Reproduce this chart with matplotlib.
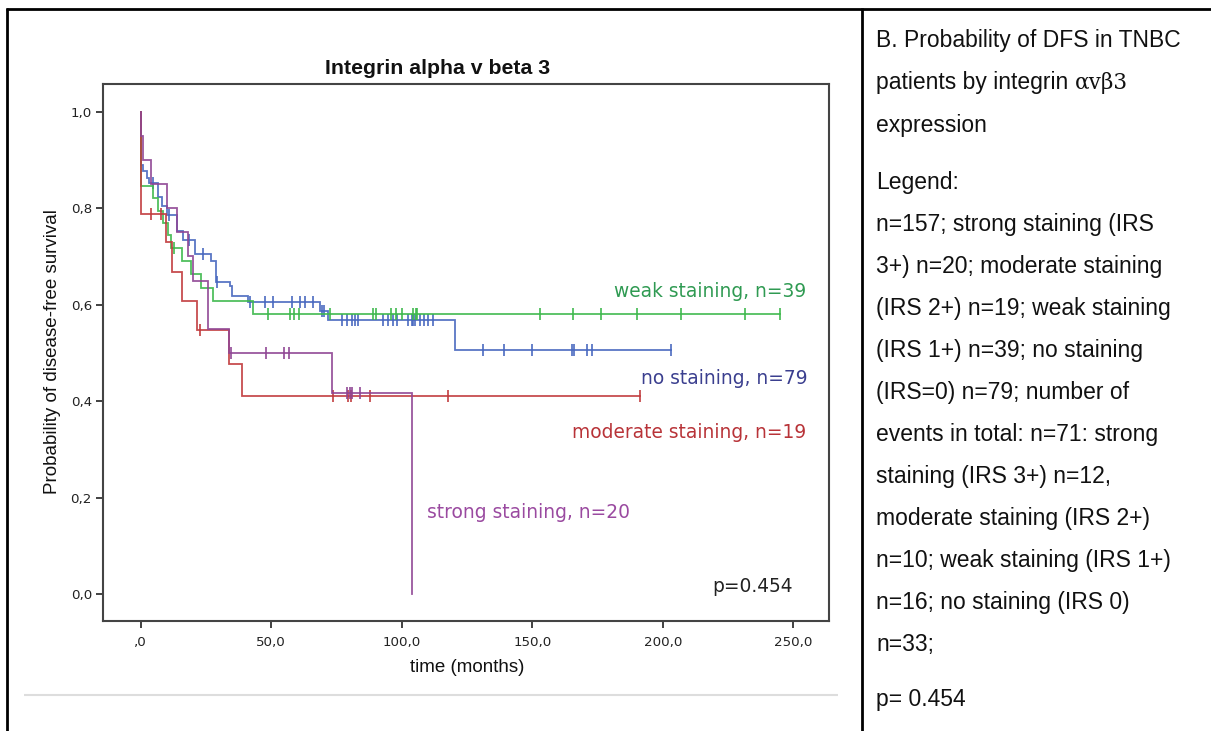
import matplotlib
matplotlib.use("Agg")
import matplotlib.pyplot as plt
from matplotlib.lines import Line2D

W, H = 1211, 731
DPI = 100

# ---- Kaplan-Meier data (months, survival level after each event) ----
strong_event_t = [0.2, 1.0, 3.8, 10.0, 13.8, 18.3, 20.0, 25.7, 34.0, 73.2, 104.0]
strong_level = [0.95, 0.90, 0.85, 0.80, 0.75, 0.70, 0.65, 0.55, 0.50, 0.4167, 0.0]
strong_censor = [34.5, 48.0, 55.0, 56.8, 78.9, 80.3, 80.8, 84.0]
strong_end = 104.0

moderate_event_t = [0.0, 9.6, 11.9, 16.0, 21.7, 34.0, 39.0]
moderate_level = [0.789, 0.729, 0.668, 0.607, 0.547, 0.478, 0.410]
moderate_censor = [3.8, 7.7, 22.7, 73.8, 79.5, 80.5, 87.8, 117.7, 191.3]
moderate_end = 191.3

weak_event_t = [0.0, 4.8, 6.7, 8.7, 10.5, 11.5, 15.7, 19.2, 23.0, 27.8, 42.9]
weak_level = [0.846, 0.821, 0.795, 0.769, 0.744, 0.718, 0.690, 0.663, 0.635, 0.607, 0.580]
weak_censor = [12.8, 48.9, 57.2, 58.8, 60.6, 72.5, 89.0, 90.0, 96.0, 98.0, 100.0,
               104.5, 105.5, 106.0, 153.0, 165.5, 176.3, 190.3, 207.0, 231.5, 245.0]
weak_end = 245.0

none_event_t = [0.0, 1.0, 2.3, 3.3, 6.7, 8.0, 10.0, 14.0, 16.3, 20.8, 27.0, 29.0,
                34.2, 34.8, 41.0, 68.7, 71.9, 120.4]
none_level = [0.889, 0.877, 0.863, 0.852, 0.824, 0.805, 0.785, 0.753, 0.734, 0.706,
              0.690, 0.647, 0.638, 0.619, 0.606, 0.587, 0.568, 0.507]
none_censor = [4.6, 10.8, 18.6, 24.0, 29.2, 41.9, 47.6, 50.8, 57.9, 61.0, 62.9, 66.1,
               69.3, 70.2, 77.0, 78.9, 80.8, 82.1, 83.4, 93.0, 94.9, 96.8, 98.1, 102.5,
               103.8, 104.5, 105.1, 107.0, 108.5, 110.2, 112.1, 131.1, 139.0, 149.8,
               165.1, 166.0, 170.9, 172.8, 203.0]
none_end = 203.0

group_labels = ["weak staining, n=39", "no staining, n=79",
                "moderate staining, n=19", "strong staining, n=20"]
p_text = "p=0.454"

x_ticks = [0, 50, 100, 150, 200, 250]
x_tick_labels = [",0", "50,0", "100,0", "150,0", "200,0", "250,0"]
y_ticks = [0.0, 0.2, 0.4, 0.6, 0.8, 1.0]
y_tick_labels = ["0,0", "0,2", "0,4", "0,6", "0,8", "1,0"]

side_lines_top = ["B. Probability of DFS in TNBC", "patients by integrin ", "expression"]
side_symbol = "\u03b1v\u03b23"
side_lines_legend = [
    "Legend:",
    "n=157; strong staining (IRS",
    "3+) n=20; moderate staining",
    "(IRS 2+) n=19; weak staining",
    "(IRS 1+) n=39; no staining",
    "(IRS=0) n=79; number of",
    "events in total: n=71: strong",
    "staining (IRS 3+) n=12,",
    "moderate staining (IRS 2+)",
    "n=10; weak staining (IRS 1+)",
    "n=16; no staining (IRS 0)",
    "n=33;",
]
side_p = "p= 0.454"

# ---- figure ----
fig = plt.figure(figsize=(W / DPI, H / DPI), dpi=DPI)
fig.patch.set_facecolor("white")


def fx(px):
    return px / W


def fy(py):
    return 1 - py / H


ax = fig.add_axes([fx(103), fy(621), fx(829) - fx(103), fy(84) - fy(621)])
ax.set_xlim(-14.44, 263.7)
ax.set_ylim(-0.0555, 1.0575)


def step_curve(ev_t, levels, end):
    xs = [0.0] + list(ev_t)
    ys = [1.0] + list(levels)
    if end > xs[-1]:
        xs.append(end)
        ys.append(ys[-1])
    return xs, ys


def level_at(ev_t, levels, t):
    s = 1.0
    for et, lv in zip(ev_t, levels):
        if et <= t:
            s = lv
    return s


groups = [
    (none_event_t, none_level, none_censor, none_end, "#4767bf"),
    (weak_event_t, weak_level, weak_censor, weak_end, "#3db84c"),
    (moderate_event_t, moderate_level, moderate_censor, moderate_end, "#c13a3c"),
    (strong_event_t, strong_level, strong_censor, strong_end, "#8f4594"),
]
for ev_t, levels, cens, end, col in groups:
    xs, ys = step_curve(ev_t, levels, end)
    ax.plot(xs, ys, drawstyle="steps-post", color=col, lw=1.3, alpha=0.9,
            solid_joinstyle="miter")
    cy = [level_at(ev_t, levels, c) for c in cens]
    ax.plot(cens, cy, linestyle="none", marker="|", markersize=8, mew=1.3,
            color=col, alpha=0.9)

# curve labels
lab_font = dict(family="DejaVu Sans", fontsize=13.4)
ax.text(254.9, 0.627, group_labels[0], color="#2f9a52", ha="right", va="center", **lab_font)
ax.text(255.6, 0.447, group_labels[1], color="#3b3f8f", ha="right", va="center", **lab_font)
ax.text(254.9, 0.335, group_labels[2], color="#b83338", ha="right", va="center", **lab_font)
ax.text(109.7, 0.169, group_labels[3], color="#9a4aa0", ha="left", va="center", **lab_font)
ax.text(249.9, 0.0155, p_text, color="#222222", ha="right", va="center", **lab_font)

ax.set_xticks(x_ticks)
ax.set_xticklabels(x_tick_labels)
ax.set_yticks(y_ticks)
ax.set_yticklabels(y_tick_labels)
for lab in ax.get_xticklabels() + ax.get_yticklabels():
    lab.set_family("DejaVu Sans")
    lab.set_fontsize(9.6)
    lab.set_color("#222222")
ax.tick_params(direction="out", length=5, width=1.3, color="#333333", pad=3)
ax.tick_params(axis="x", pad=6)
for sp in ax.spines.values():
    sp.set_color("#444444")
    sp.set_linewidth(1.5)

# titles and axis labels
fig.text(fx(438), fy(69), "Integrin alpha v beta 3", ha="center", va="center",
         family="Liberation Sans", fontweight="bold", fontsize=15.3, color="#111111")
fig.text(fx(53), fy(352), "Probability of disease-free survival", rotation=90,
         ha="center", va="center", family="Liberation Sans", fontsize=13.5, color="#111111")
fig.text(fx(467), fy(668), "time (months)", ha="center", va="center",
         family="Liberation Sans", fontsize=13.5, color="#111111")

# table frame
def fig_line(x0, y0, x1, y1, color="black", lw=2.0):
    fig.add_artist(Line2D([fx(x0), fx(x1)], [fy(y0), fy(y1)], color=color, lw=lw,
                          transform=fig.transFigure, solid_capstyle="butt"))


fig_line(6, 8.5, W, 8.5)
fig_line(7, 8, 7, H)
fig_line(862, 8, 862, H)
fig_line(24, 695, 838, 695, color="#dddddd", lw=1.5)

# side panel text
side_font = dict(family="Liberation Sans", fontsize=16.5, color="#111111")
base_top = [47, 89, 132]
for txt, by in zip(side_lines_top, base_top):
    t = fig.text(fx(876), fy(by), txt, ha="left", va="baseline", **side_font)
    if txt.startswith("patients"):
        fig.canvas.draw()
        bb = t.get_window_extent()
        fig.text(bb.x1 / W, fy(by), side_symbol, ha="left", va="baseline",
                 family="DejaVu Serif", fontsize=15.5, color="#111111")
y0 = 189
for i, txt in enumerate(side_lines_legend):
    fig.text(fx(876), fy(y0 + 42.0 * i), txt, ha="left", va="baseline", **side_font)
fig.text(fx(876), fy(706), side_p, ha="left", va="baseline", **side_font)

fig.savefig("out.png", dpi=DPI, facecolor="white")
